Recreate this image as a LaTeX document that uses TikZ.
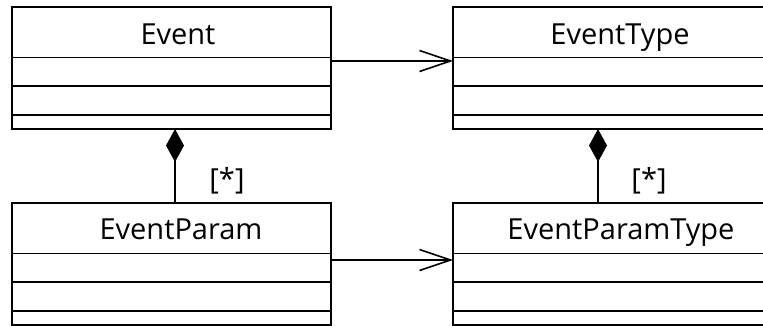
\documentclass[tikz,border=0pt]{standalone}
\usepackage{fontspec}
\setmainfont{Open Sans}
\usetikzlibrary{arrows.meta}
\begin{document}
\begin{tikzpicture}[x=1pt,y=-1pt,
  classbox/.style={draw, line width=1.6pt, minimum width=319pt, minimum height=122pt, anchor=north west, inner sep=0pt, outer sep=0pt},
  sep/.style={line width=1.6pt},
  title/.style={font=\fontsize{29}{32}\selectfont, inner sep=0pt, anchor=base},
  mult/.style={font=\fontsize{29}{32}\selectfont, inner sep=0pt},
  assoc/.style={line width=1.6pt, -{Straight Barb[length=31pt, width=21pt, line width=1.6pt]}},
  comp/.style={line width=1.6pt, {Diamond[length=33pt, width=18pt]}-}
]
\useasboundingbox (0,0) rectangle (763,325);
% classes
\node[classbox] (ev) at (12,7) {};
\node[classbox] (evt) at (453,7) {};
\node[classbox] (evp) at (12,203) {};
\node[classbox] (evpt) at (453,203) {};
% compartments
\foreach \c in {ev,evt,evp,evpt}{
  \draw[sep] ([yshift=-50.5pt]\c.north west) -- ([yshift=-50.5pt]\c.north east);
  \draw[sep] ([yshift=-79pt]\c.north west) -- ([yshift=-79pt]\c.north east);
  \draw[sep] ([yshift=-108pt]\c.north west) -- ([yshift=-108pt]\c.north east);
}
% titles
\node[title] (tev) at (178,44) {Event};
\node[title] (tevt) at (620,44) {EventType};
\node[title] (tevp) at (181,239.5) {EventParam};
\node[title] (tevpt) at (621,239.5) {EventParamType};
% associations
\draw[assoc] ([yshift=7pt]ev.east) -- ([yshift=7pt]evt.west);
\draw[assoc] (evp.north east |- 0,260) -- (evpt.west |- 0,260);
% compositions
\draw[comp] ([xshift=3.5pt]ev.south) -- ([xshift=3.5pt]evp.north);
\draw[comp] ([xshift=-14.5pt]evt.south) -- ([xshift=-14.5pt]evpt.north);
% multiplicities
\node[mult] (m1) at (227,181) {[*]};
\node[mult] (m2) at (649,181) {[*]};
\end{tikzpicture}
\end{document}
